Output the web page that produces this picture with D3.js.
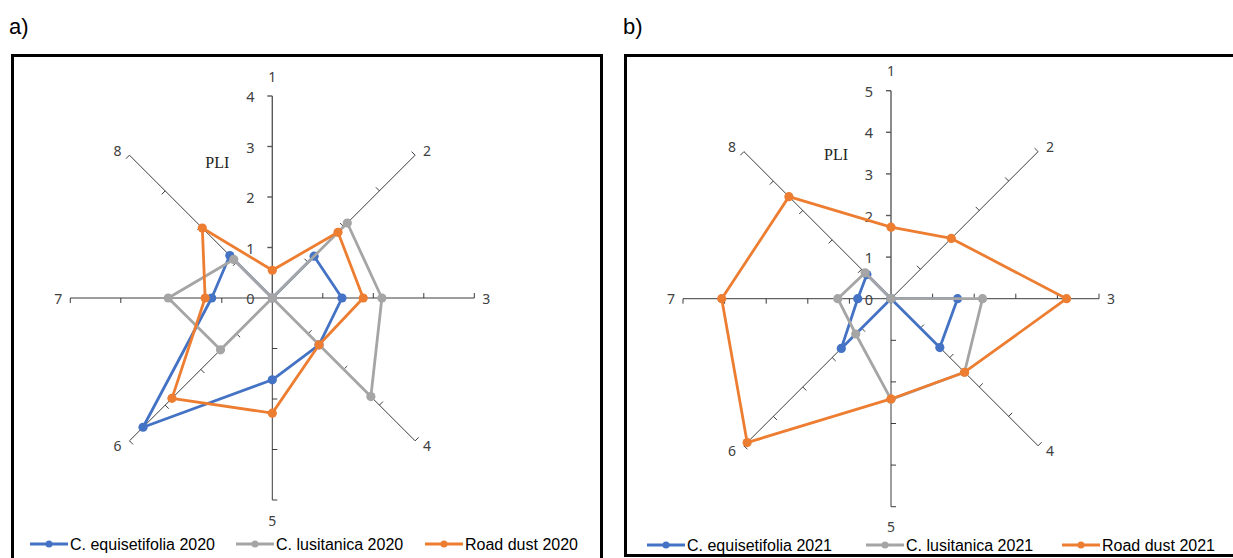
<!DOCTYPE html>
<html>
<head>
<meta charset="utf-8">
<script src="https://cdn.jsdelivr.net/npm/d3@7"></script>
<style>
  body { margin: 0; background: #fff; }
  svg { display: block; }
  text { font-family: "Noto Sans", Arial, sans-serif; fill: #404040; }
  .legend text { font-family: "Liberation Sans", Arial, sans-serif; fill: #000; font-size: 16px; }
  .panel-title { font-family: "Liberation Sans", Arial, sans-serif; fill: #000; font-size: 22px; }
  .pli { font-family: "Liberation Serif", "DejaVu Serif", serif; fill: #222; font-size: 16px; }
</style>
</head>
<body>
<div id="chart"></div>
<script>
// axis (station) names, clockwise from the top
const axisNames = ["1", "2", "3", "4", "5", "6", "7", "8"];

// PLI values, 2020
const equi2020 = [0, 1.17, 1.38, 1.31, 1.62, 3.62, 1.2, 1.19];
const lusi2020 = [0, 2.1, 2.17, 2.76, 0, 1.45, 2.06, 1.08];
const dust2020 = [0.55, 1.84, 1.8, 1.31, 2.28, 2.81, 1.33, 1.96];

// PLI values, 2021
const equi2021 = [0, 0, 1.6, 1.66, 0, 1.69, 0.8, 0.82];
const lusi2021 = [0, 0, 2.2, 2.5, 2.42, 1.2, 1.28, 0.88];
const dust2021 = [1.72, 2.05, 4.22, 2.5, 2.41, 4.89, 4.07, 3.47];

const ticks2020 = [0, 1, 2, 3, 4];
const ticks2021 = [0, 1, 2, 3, 4, 5];

const names2020 = ["C. equisetifolia 2020", "C. lusitanica 2020", "Road dust 2020"];
const names2021 = ["C. equisetifolia 2021", "C. lusitanica  2021", "Road dust 2021"];

const colors = ["#4472C4", "#A5A5A5", "#ED7D31"];

const W = 1233, H = 558;
const svg = d3.select("#chart").append("svg")
  .attr("width", W)
  .attr("height", H);

// panel frames
svg.append("rect").attr("x", 12.5).attr("y", 55.5).attr("width", 589).attr("height", 530)
  .attr("fill", "none").attr("stroke", "#000").attr("stroke-width", 3);
svg.append("rect").attr("x", 625.5).attr("y", 55.5).attr("width", 700).attr("height", 500)
  .attr("fill", "none").attr("stroke", "#000").attr("stroke-width", 3);

svg.append("text").attr("class", "panel-title").attr("x", 9).attr("y", 34).text("a)");
svg.append("text").attr("class", "panel-title").attr("x", 623).attr("y", 34).text("b)");

function radar(opts) {
  const g = svg.append("g").attr("transform", `translate(${opts.cx},${opts.cy})`);
  const r = d3.scaleLinear().domain([0, d3.max(opts.ticks)]).range([0, opts.radius]);
  const angle = d3.scaleLinear().domain([0, axisNames.length]).range([0, 2 * Math.PI]);

  // screen direction for axis i (clockwise from up)
  const dir = i => [Math.sin(angle(i)), -Math.cos(angle(i))];
  const pt = (i, v) => { const d = dir(i); return [d[0] * r(v), d[1] * r(v)]; };

  // spokes
  axisNames.forEach((name, i) => {
    const end = pt(i, d3.max(opts.ticks));
    g.append("line")
      .attr("x1", 0).attr("y1", 0).attr("x2", end[0]).attr("y2", end[1])
      .attr("stroke", i === 0 ? "#595959" : "#262626")
      .attr("stroke-width", i === 0 ? 1.4 : 0.9);

    // tick marks on counterclockwise side of each spoke
    const d = dir(i);
    const off = [d[1], -d[0]];
    opts.ticks.slice(1).forEach(t => {
      const p = pt(i, t);
      g.append("line")
        .attr("x1", p[0]).attr("y1", p[1])
        .attr("x2", p[0] + off[0] * 5).attr("y2", p[1] + off[1] * 5)
        .attr("stroke", i === 0 ? "#595959" : "#262626")
        .attr("stroke-width", i === 0 ? 1.4 : 0.9);
    });

    // spoke name just past the end
    const sx = Math.abs(d[0]) < 0.01 ? 0 : Math.sign(d[0]);
    const sy = Math.abs(d[1]) < 0.01 ? 0 : Math.sign(d[1]);
    const lx = end[0] + sx * 12;
    const ly = end[1] + (sx === 0 ? sy * 20 : sy * 5);
    g.append("text")
      .attr("x", lx).attr("y", ly)
      .attr("text-anchor", "middle")
      .attr("dominant-baseline", "central")
      .attr("font-size", 14)
      .text(name);
  });

  // value labels on the first spoke
  g.selectAll(".tl").data(opts.ticks).enter().append("text")
    .attr("class", "tl")
    .attr("x", -22)
    .attr("y", d => -r(d))
    .attr("text-anchor", "middle")
    .attr("dominant-baseline", "central")
    .attr("font-size", 14.5)
    .text(d => d);

  g.append("text").attr("class", "pli")
    .attr("x", opts.pliX).attr("y", opts.pliY).text("PLI");

  // series
  opts.series.forEach((vals, k) => {
    const pts = vals.map((v, i) => pt(i, v));
    g.append("path")
      .attr("d", d3.line().curve(d3.curveLinearClosed)(pts))
      .attr("fill", "none")
      .attr("stroke", colors[k])
      .attr("stroke-width", 2.8)
      .attr("stroke-linejoin", "round");
    g.selectAll(".m" + k).data(pts).enter().append("circle")
      .attr("cx", d => d[0]).attr("cy", d => d[1])
      .attr("r", 4.6)
      .attr("fill", colors[k]);
  });

  // legend
  const lg = svg.append("g").attr("class", "legend");
  opts.names.forEach((n, k) => {
    const x = opts.legendX[k], y = opts.legendY;
    lg.append("line").attr("x1", x).attr("x2", x + 38).attr("y1", y).attr("y2", y)
      .attr("stroke", colors[k]).attr("stroke-width", 2.8);
    lg.append("circle").attr("cx", x + 19).attr("cy", y).attr("r", 3.5).attr("fill", colors[k]);
    lg.append("text").attr("x", x + 40).attr("y", y).attr("dominant-baseline", "central").text(n);
  });
}

radar({
  cx: 272.3, cy: 298, radius: 202, ticks: ticks2020,
  series: [equi2020, lusi2020, dust2020],
  names: names2020, legendX: [30, 236, 425], legendY: 544,
  pliX: -67, pliY: -130
});

radar({
  cx: 891, cy: 298.7, radius: 208, ticks: ticks2021,
  series: [equi2021, lusi2021, dust2021],
  names: names2021, legendX: [647, 866, 1062], legendY: 545,
  pliX: -67, pliY: -139
});
</script>
</body>
</html>
